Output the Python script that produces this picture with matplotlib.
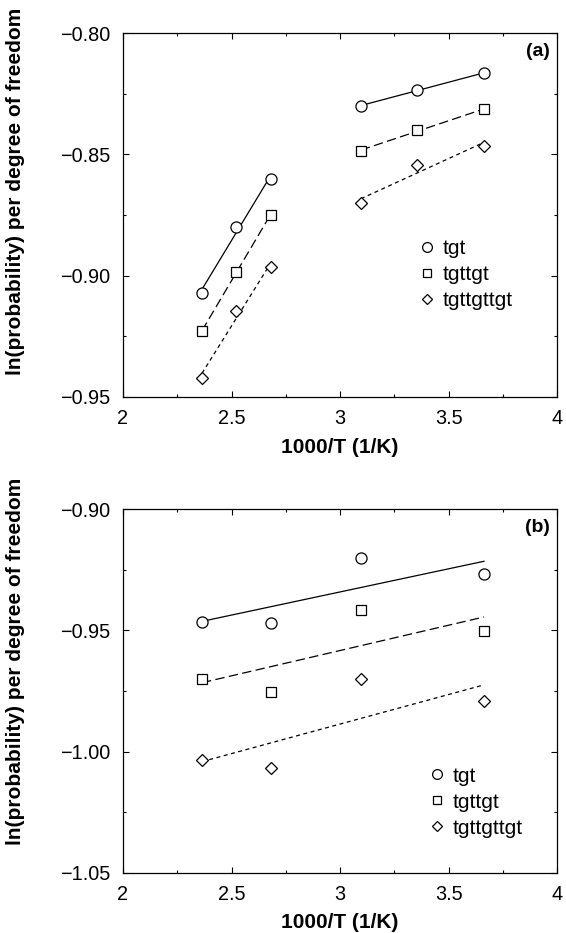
import numpy as np
import matplotlib
matplotlib.use("Agg")
import matplotlib.pyplot as plt
from matplotlib.lines import Line2D
from matplotlib.ticker import MultipleLocator, FuncFormatter

plt.rcParams['font.family'] = ['Liberation Sans', 'DejaVu Sans']

series_names = ["tgt", "tgttgt", "tgttgttgt"]

# Panel (a): two temperature groups, each fitted separately
a_x_low = [2.364, 2.519, 2.681]
a_x_high = [3.096, 3.356, 3.663]
a_tgt_low = [-0.907, -0.880, -0.860]
a_tgt_high = [-0.830, -0.8235, -0.8165]
a_tgttgt_low = [-0.923, -0.8985, -0.875]
a_tgttgt_high = [-0.8485, -0.840, -0.8315]
a_tgttgttgt_low = [-0.942, -0.9145, -0.8965]
a_tgttgttgt_high = [-0.870, -0.8545, -0.8465]

# Panel (b)
b_x = [2.364, 2.681, 3.096, 3.663]
b_tgt = [-0.9467, -0.9468, -0.9202, -0.9268]
b_tgttgt = [-0.9702, -0.9753, -0.9418, -0.9502]
b_tgttgttgt = [-1.0034, -1.0068, -0.9702, -0.9791]

markers = ['o', 's', 'D']
msizes = [8, 6.5, 6.2]
dashes = [None, (7.5, 3.5), (3.2, 2.8)]

fig = plt.figure(figsize=(5.66, 9.33), dpi=100)
ax_a = fig.add_axes([0.2173, 0.5745, 0.767, 0.3901])
ax_b = fig.add_axes([0.2173, 0.0646, 0.767, 0.3898])

def fit_line(ax, x, y, d):
    p = np.polyfit(x, y, 1)
    xx = np.array([min(x), max(x)])
    ln, = ax.plot(xx, np.polyval(p, xx), color='black', lw=0.9)
    if d is not None:
        ln.set_dashes(d)

def pts(ax, x, y, m, s):
    ax.plot(x, y, linestyle='none', marker=m, markersize=s,
            markerfacecolor='white', markeredgecolor='black', markeredgewidth=0.9, zorder=3)

a_low = [a_tgt_low, a_tgttgt_low, a_tgttgttgt_low]
a_high = [a_tgt_high, a_tgttgt_high, a_tgttgttgt_high]
for i in range(3):
    fit_line(ax_a, a_x_low, a_low[i], dashes[i])
    fit_line(ax_a, a_x_high, a_high[i], dashes[i])
    pts(ax_a, a_x_low, a_low[i], markers[i], msizes[i])
    pts(ax_a, a_x_high, a_high[i], markers[i], msizes[i])

b_all = [b_tgt, b_tgttgt, b_tgttgttgt]
for i in range(3):
    fit_line(ax_b, b_x, b_all[i], dashes[i])
    pts(ax_b, b_x, b_all[i], markers[i], msizes[i])

ax_a.set_ylim(-0.95, -0.80)
ax_b.set_ylim(-1.05, -0.90)

yfmt = FuncFormatter(lambda v, p: ('%.2f' % v).replace('-', '\u2212'))
xfmt = FuncFormatter(lambda v, p: '%g' % v)

for ax, lab in [(ax_a, '(a)'), (ax_b, '(b)')]:
    ax.set_xlim(2, 4)
    ax.xaxis.set_major_locator(MultipleLocator(0.5))
    ax.xaxis.set_minor_locator(MultipleLocator(0.25))
    ax.yaxis.set_major_locator(MultipleLocator(0.05))
    ax.yaxis.set_minor_locator(MultipleLocator(0.025))
    ax.yaxis.set_major_formatter(yfmt)
    ax.xaxis.set_major_formatter(xfmt)
    ax.tick_params(which='both', direction='in', top=True, right=True, width=0.8)
    ax.tick_params(which='major', length=4.3, labelsize=14.3, pad=9)
    ax.tick_params(which='minor', length=2.5)
    for sp in ax.spines.values():
        sp.set_linewidth(0.9)
    ax.set_xlabel('1000/T (1/K)', fontsize=15, fontweight='bold', labelpad=6.5)
    ax.text(0.984, 0.948, lab, transform=ax.transAxes, ha='right', va='center',
            fontsize=14, fontweight='bold')
    handles = [Line2D([], [], linestyle='none', marker=markers[i], markersize=msizes[i] * 0.88,
                      markerfacecolor='white', markeredgecolor='black', markeredgewidth=0.9)
               for i in range(3)]
    if ax is ax_a:
        anchor = (0.68, 0.434)
    else:
        anchor = (0.705, 0.292)
    ax.legend(handles, series_names, loc='upper left', bbox_to_anchor=anchor, frameon=False,
              fontsize=15, handlelength=0.8, handletextpad=0.35, labelspacing=0.34,
              borderaxespad=0, borderpad=0)

fig.text(0.028, 1 - 191 / 933, 'ln(probability) per degree of freedom', rotation=90,
         ha='center', va='center', fontsize=15, fontweight='bold')
fig.text(0.028, 1 - 661 / 933, 'ln(probability) per degree of freedom', rotation=90,
         ha='center', va='center', fontsize=15, fontweight='bold')

fig.savefig('out.png', dpi=100)
